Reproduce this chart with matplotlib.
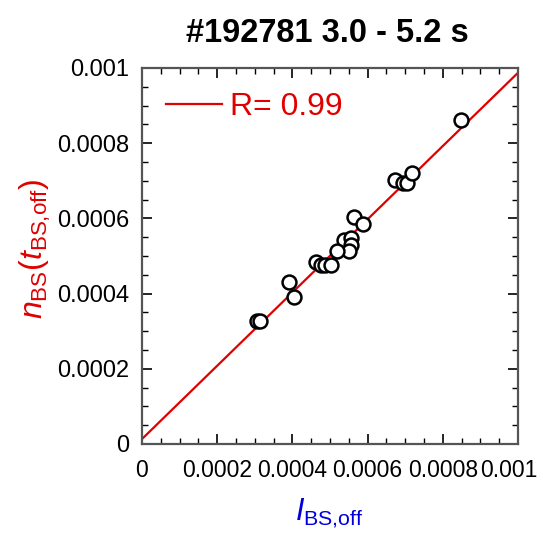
import matplotlib
matplotlib.use("Agg")
import matplotlib.pyplot as plt
from matplotlib.ticker import FixedLocator, MultipleLocator
from matplotlib.transforms import ScaledTranslation
import numpy as np

plt.rcParams['font.family'] = ['Liberation Sans', 'DejaVu Sans']
plt.rcParams['mathtext.fontset'] = 'custom'
plt.rcParams['mathtext.rm'] = 'Liberation Sans'
plt.rcParams['mathtext.it'] = 'Liberation Sans:italic'
plt.rcParams['mathtext.bf'] = 'Liberation Sans:bold'

# data
i_bs_off = [0.000848, 0.000673, 0.000695, 0.000706, 0.000719, 0.000564, 0.000589,
            0.000538, 0.000557, 0.000556, 0.000551, 0.000518, 0.000464, 0.000476,
            0.000488, 0.000503, 0.000392, 0.000405, 0.000305, 0.000314]
n_bs = [0.000862, 0.000702, 0.000693, 0.000694, 0.000721, 0.000605, 0.000585,
        0.000543, 0.000548, 0.000528, 0.000512, 0.000513, 0.000484, 0.000475,
        0.000476, 0.000477, 0.000431, 0.000390, 0.000327, 0.000328]
fit_slope = 0.974
fit_intercept = 0.0000133
r_value = 0.99
title = "#192781 3.0 - 5.2 s"
tick_values = [0, 0.0002, 0.0004, 0.0006, 0.0008, 0.001]
tick_labels = ['0', '0.0002', '0.0004', '0.0006', '0.0008', '0.001']

RED = '#e00000'
BLUE = '#0000dd'

fig = plt.figure(figsize=(5.43, 5.34), dpi=100)
ax = fig.add_axes([142/543, 1-444/534, 376/543, 376/534])

ax.axline((0, fit_intercept), slope=fit_slope, color=RED, lw=1.6,
          label=f"R= {r_value:.2f}", zorder=2)
ax.plot(i_bs_off, n_bs, 'o', ms=10, mfc='white', mec='black', mew=1.8,
        ls='none', zorder=3)

ax.set_xlim(0, 0.001)
ax.set_ylim(0, 0.001)

for axis in (ax.xaxis, ax.yaxis):
    axis.set_major_locator(FixedLocator(tick_values))
    axis.set_minor_locator(MultipleLocator(0.00005))
ax.set_xticklabels(tick_labels)
ax.set_yticklabels(tick_labels)

ax.tick_params(which='both', direction='in', top=True, right=True, color='black')
ax.tick_params(which='major', length=7, width=1.2)
ax.tick_params(which='minor', length=4, width=1.0)
ax.tick_params(axis='x', which='major', pad=11, labelsize=16.5)
ax.tick_params(axis='y', which='major', pad=9, labelsize=17)

# keep the last x tick label inside the figure
last = ax.get_xticklabels()[-1]
last.set_transform(last.get_transform() +
                   ScaledTranslation(-0.09, 0, fig.dpi_scale_trans))

for sp in ax.spines.values():
    sp.set_color('#555555')
    sp.set_linewidth(1.6)

leg = ax.legend(loc='upper left', frameon=False, fontsize=23, handlelength=1.75,
                handletextpad=0.25, borderaxespad=0.35, labelcolor=RED)

fig.text(327/543, 1-33/534, title, ha='center', va='center', fontsize=23.5,
         fontweight='bold')
fig.text(35/543, 1-249/534,
         r'$\mathit{n}_{\rm BS}(\mathit{t}_{\rm BS{,}off})$',
         rotation=90, ha='center', va='center', fontsize=23, color=RED)
fig.text(329/543, 1-513/534, r'$\mathit{I}_{\rm BS{,}off}$', ha='center',
         va='center', fontsize=22, color=BLUE)

fig.savefig('out.png', dpi=100)
